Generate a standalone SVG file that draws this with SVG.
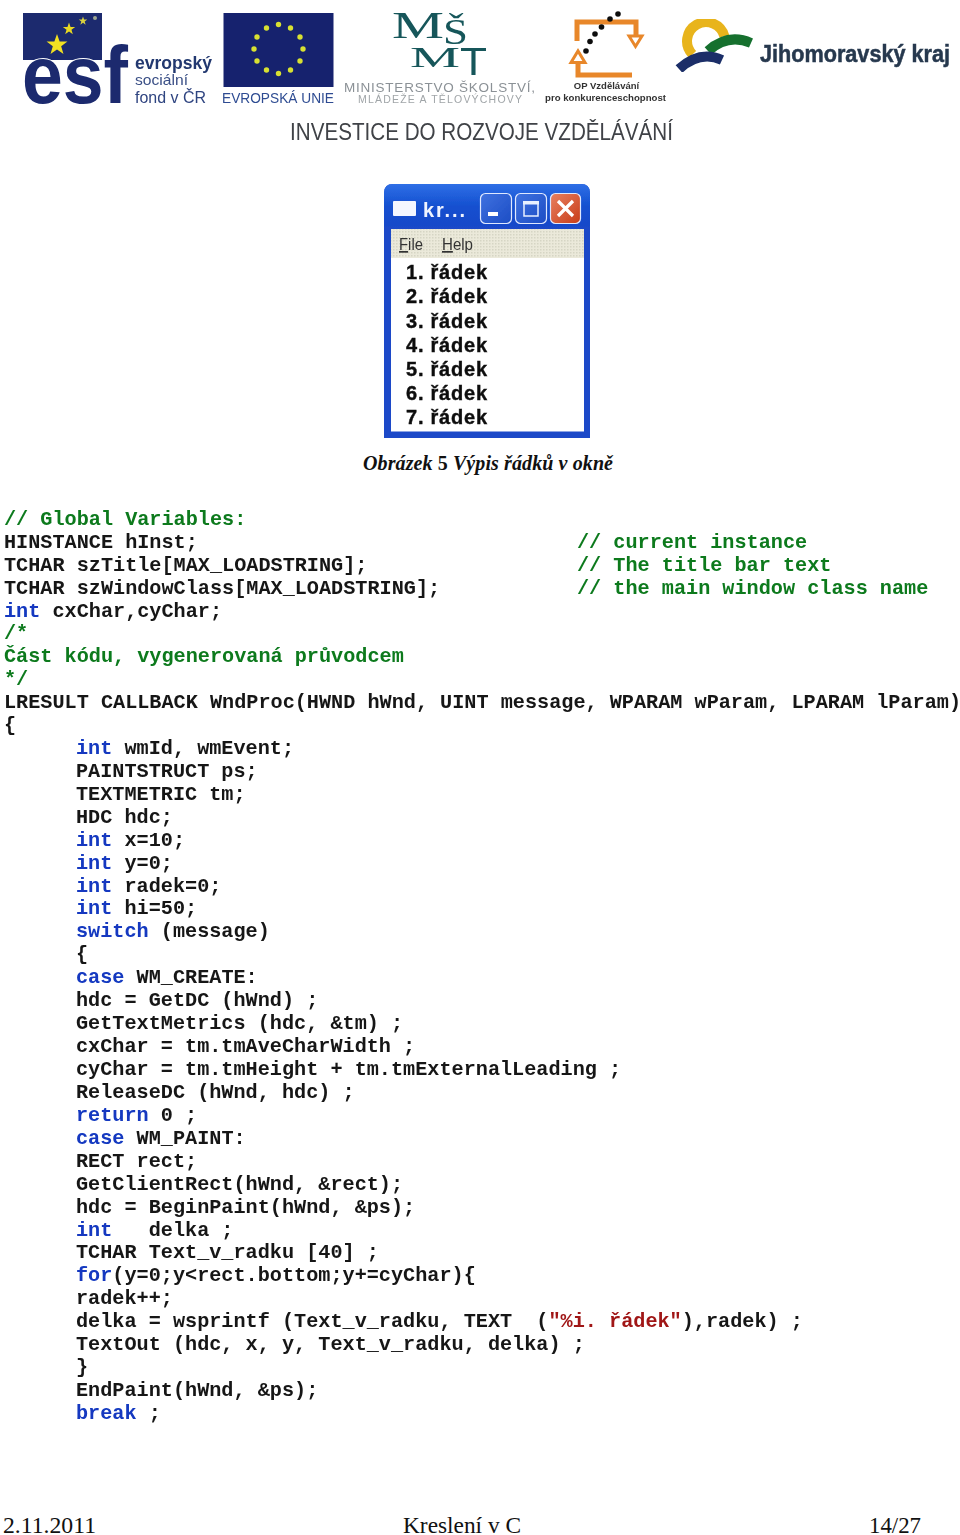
<svg xmlns="http://www.w3.org/2000/svg" width="960" height="1535" viewBox="0 0 960 1535">
<style>
text{white-space:pre}
.c{font:bold 20.2px "Liberation Mono",monospace;fill:#161616}
.g{fill:#0b7a1e}
.b{fill:#1238c0}
.r{fill:#a01818}
.s{font-family:"Liberation Sans",Arial,sans-serif}
.t{font-family:"Liberation Serif","Times New Roman",serif}
.row{font:bold 20px "Liberation Sans",Arial,sans-serif;fill:#111;stroke:#111;stroke-width:.4}
.navy{fill:#1a2a6e}
.btn{stroke:#dfe8ff;stroke-width:1.2}
</style>
<defs>
<filter id="soft" x="-5%" y="-5%" width="110%" height="110%"><feGaussianBlur stdDeviation="0.7"/></filter>
<filter id="mild" x="-2%" y="-2%" width="104%" height="104%"><feGaussianBlur stdDeviation="0.3"/></filter>
<linearGradient id="tb" x1="0" y1="0" x2="0" y2="1"><stop offset="0" stop-color="#2f6fe6"/><stop offset="0.5" stop-color="#1450d0"/><stop offset="1" stop-color="#1a48c8"/></linearGradient>
<linearGradient id="bt" x1="0" y1="0" x2="1" y2="1"><stop offset="0" stop-color="#3f72e0"/><stop offset="1" stop-color="#1c4cc4"/></linearGradient>
<linearGradient id="cl" x1="0" y1="0" x2="1" y2="1"><stop offset="0" stop-color="#e88060"/><stop offset="1" stop-color="#c83c18"/></linearGradient>
<polygon id="star" points="0,-1 0.24,-0.31 0.95,-0.31 0.38,0.12 0.59,0.81 0,0.4 -0.59,0.81 -0.38,0.12 -0.95,-0.31 -0.24,-0.31"/>
<pattern id="dith" width="3" height="3" patternUnits="userSpaceOnUse"><rect width="3" height="3" fill="#ebe9da"/><rect width="1.5" height="1.5" fill="#d6d5c4"/></pattern>
</defs>
<rect width="960" height="1535" fill="#fff"/>

<g id="logo-esf" filter="url(#soft)">
<rect x="23" y="13" width="79" height="47" fill="#1a2a6e"/>
<use href="#star" transform="translate(57,45) scale(11)" fill="#f2e020"/>
<use href="#star" transform="translate(69,29) scale(6.5)" fill="#e8d820"/>
<use href="#star" transform="translate(83,21) scale(4.5)" fill="#d8d040"/>
<circle cx="95" cy="18" r="2" fill="#a0a890"/>
<text x="22" y="103" font-size="82" font-weight="bold" class="s navy" textLength="106" lengthAdjust="spacingAndGlyphs" stroke="#fff" stroke-width="2" paint-order="stroke">esf</text>
<text x="135" y="69" font-size="19" font-weight="bold" class="s" fill="#22386f" textLength="77" lengthAdjust="spacingAndGlyphs">evropský</text>
<text x="135" y="85" font-size="14.500" class="s" fill="#3a4f86" textLength="53" lengthAdjust="spacingAndGlyphs">sociální</text>
<text x="135" y="103" font-size="17" class="s" fill="#2f4480" textLength="71" lengthAdjust="spacingAndGlyphs">fond v ČR</text>
</g>

<g id="logo-eu" filter="url(#soft)">
<rect x="223.500" y="13" width="110" height="74" fill="#13246e"/>
<g fill="#d8e030">
<circle cx="278.500" cy="24.500" r="2.700"/><circle cx="290.500" cy="28" r="2.700"/><circle cx="300" cy="37" r="2.700"/><circle cx="303" cy="49" r="2.700"/><circle cx="300" cy="61" r="2.700"/><circle cx="290.500" cy="70" r="2.700"/><circle cx="278.500" cy="73.500" r="2.700"/><circle cx="266.500" cy="70" r="2.700"/><circle cx="257" cy="61" r="2.700"/><circle cx="254" cy="49" r="2.700"/><circle cx="257" cy="37" r="2.700"/><circle cx="266.500" cy="28" r="2.700"/>
</g>
<text x="222" y="103" font-size="15" class="s" fill="#2e4c92" textLength="112" lengthAdjust="spacingAndGlyphs">EVROPSKÁ UNIE</text>
</g>

<g id="logo-msmt" filter="url(#soft)">
<text x="392" y="38" font-size="38" class="t" fill="#17565a" textLength="52" lengthAdjust="spacingAndGlyphs">M</text>
<text x="443" y="44" font-size="36" class="t" fill="#17565a" textLength="25" lengthAdjust="spacingAndGlyphs">Š</text>
<text x="410" y="67" font-size="30" class="t" fill="#17565a" textLength="50" lengthAdjust="spacingAndGlyphs">M</text>
<text x="460" y="75" font-size="38" class="s" fill="#17565a" textLength="27" lengthAdjust="spacingAndGlyphs">T</text>
<text x="344" y="92" font-size="13.500" class="s" fill="#8b9196" textLength="191">MINISTERSTVO ŠKOLSTVÍ,</text>
<text x="358" y="103" font-size="10.500" class="s" fill="#a0a5a8" textLength="164">MLÁDEŽE A TĚLOVÝCHOVY</text>
</g>

<g id="logo-op" filter="url(#soft)">
<path d="M577 41V22H636V36M578 62V75H632" fill="none" stroke="#e8872a" stroke-width="5"/>
<path d="M571 62.500L578 51L585 62.500Z" fill="#fff" stroke="#e8872a" stroke-width="3"/>
<path d="M629 36H642L635.500 46.500Z" fill="#fff" stroke="#e8872a" stroke-width="3"/>
<g fill="#111"><circle cx="618" cy="14" r="2.800"/><circle cx="610" cy="19" r="2.800"/><circle cx="601.500" cy="27" r="2.800"/><circle cx="595" cy="34" r="2.800"/><circle cx="590" cy="41.500" r="2.800"/><circle cx="586" cy="51" r="2.800"/></g>
<text x="606.500" y="89" font-size="9.500" font-weight="bold" class="s" fill="#333" text-anchor="middle">OP Vzdělávání</text>
<text x="545" y="101" font-size="9.500" font-weight="bold" class="s" fill="#333" textLength="121" lengthAdjust="spacingAndGlyphs">pro konkurenceschopnost</text>
</g>

<g id="logo-jmk" filter="url(#soft)">
<path d="M692.500 54.400A19 19 0 1 1 724.400 36.200" fill="none" stroke="#e8b41e" stroke-width="10"/>
<path d="M708 51Q728 33 751 43" fill="none" stroke="#15702f" stroke-width="10"/>
<path d="M679 69Q700 50 722 60" fill="none" stroke="#1a2f68" stroke-width="10"/>
<text x="760" y="62" font-size="23" font-weight="bold" class="s" fill="#26384e" stroke="#26384e" stroke-width=".5" textLength="190" lengthAdjust="spacingAndGlyphs">Jihomoravský kraj</text>
</g>

<g id="logo-title" filter="url(#soft)">
<text x="290" y="140" font-size="24" class="s" fill="#3f4246" textLength="383" lengthAdjust="spacingAndGlyphs">INVESTICE DO ROZVOJE VZDĚLÁVÁNÍ</text>
</g>

<g id="window" filter="url(#mild)">
<path d="M384 438V193Q384 184 393 184H581Q590 184 590 193V438Z" fill="#1a48c8"/>
<path d="M384 193Q384 184 393 184H581Q590 184 590 193V228H384Z" fill="url(#tb)"/>
<rect x="391" y="229" width="193" height="29" fill="url(#dith)"/>
<rect x="391" y="258" width="193" height="173.500" fill="#fff"/>
<rect x="393" y="201" width="23" height="15" rx="1" fill="#f4f6ff"/>
<text x="423" y="217" font-size="20" font-weight="bold" class="s" fill="#f0f4ff" textLength="42">kr...</text>
<rect class="btn" x="480.500" y="193.500" width="31" height="30" rx="5" fill="url(#bt)"/>
<rect class="btn" x="515.500" y="193.500" width="31" height="30" rx="5" fill="url(#bt)"/>
<rect class="btn" x="550.500" y="193.500" width="30" height="30" rx="5" fill="url(#cl)"/>
<rect x="488" y="212" width="10" height="4" fill="#fff"/>
<path d="M524 203H538V216H524Z" fill="none" stroke="#e8f0ff" stroke-width="1.500"/><rect x="523" y="201" width="16" height="3.500" fill="#e8f0ff"/>
<path d="M558 201L573 216M573 201L558 216" stroke="#fff" stroke-width="3.200"/>
<text x="399" y="250" font-size="17" class="s" fill="#333" textLength="24" lengthAdjust="spacingAndGlyphs"><tspan text-decoration="underline">F</tspan>ile</text>
<text x="442" y="250" font-size="17" class="s" fill="#333" textLength="31" lengthAdjust="spacingAndGlyphs"><tspan text-decoration="underline">H</tspan>elp</text>
<text class="row" x="406" y="279" textLength="81">1. řádek</text>
<text class="row" x="406" y="303.300" textLength="81">2. řádek</text>
<text class="row" x="406" y="327.500" textLength="81">3. řádek</text>
<text class="row" x="406" y="351.700" textLength="81">4. řádek</text>
<text class="row" x="406" y="376" textLength="81">5. řádek</text>
<text class="row" x="406" y="400" textLength="81">6. řádek</text>
<text class="row" x="406" y="424.200" textLength="81">7. řádek</text>
</g>

<text id="caption" x="363" y="470" font-size="20" font-weight="bold" font-style="italic" class="t" fill="#111" textLength="250">Obrázek <tspan font-style="normal">5</tspan> Výpis řádků v okně</text>

<g id="code" filter="url(#mild)">
<text class="c g" x="4" y="524.500">// Global Variables:</text>
<text class="c" x="4" y="547.500">HINSTANCE hInst;</text>
<text class="c g" x="577" y="547.500">// current instance</text>
<text class="c" x="4" y="570.500">TCHAR szTitle[MAX_LOADSTRING];</text>
<text class="c g" x="577" y="570.500">// The title bar text</text>
<text class="c" x="4" y="593.500">TCHAR szWindowClass[MAX_LOADSTRING];</text>
<text class="c g" x="577" y="593.500">// the main window class name</text>
<text class="c" x="4" y="616.500"><tspan class="b">int</tspan> cxChar,cyChar;</text>
<text class="c g" x="4" y="639">/*</text>
<text class="c g" x="4" y="662">Část kódu, vygenerovaná průvodcem</text>
<text class="c g" x="4" y="685">*/</text>
<text class="c" x="4" y="708">LRESULT CALLBACK WndProc(HWND hWnd, UINT message, WPARAM wParam, LPARAM lParam)</text>
<text class="c" x="4" y="730.500">{</text>
<text class="c" x="76" y="753.500"><tspan class="b">int</tspan> wmId, wmEvent;</text>
<text class="c" x="76" y="776.500">PAINTSTRUCT ps;</text>
<text class="c" x="76" y="799.500">TEXTMETRIC tm;</text>
<text class="c" x="76" y="822.500">HDC hdc;</text>
<text class="c" x="76" y="845.500"><tspan class="b">int</tspan> x=10;</text>
<text class="c" x="76" y="868.500"><tspan class="b">int</tspan> y=0;</text>
<text class="c" x="76" y="891.500"><tspan class="b">int</tspan> radek=0;</text>
<text class="c" x="76" y="914"><tspan class="b">int</tspan> hi=50;</text>
<text class="c" x="76" y="937"><tspan class="b">switch</tspan> (message)</text>
<text class="c" x="76" y="960">{</text>
<text class="c" x="76" y="983"><tspan class="b">case</tspan> WM_CREATE:</text>
<text class="c" x="76" y="1006">hdc = GetDC (hWnd) ;</text>
<text class="c" x="76" y="1029">GetTextMetrics (hdc, &amp;tm) ;</text>
<text class="c" x="76" y="1052">cxChar = tm.tmAveCharWidth ;</text>
<text class="c" x="76" y="1075">cyChar = tm.tmHeight + tm.tmExternalLeading ;</text>
<text class="c" x="76" y="1098">ReleaseDC (hWnd, hdc) ;</text>
<text class="c" x="76" y="1120.500"><tspan class="b">return</tspan> 0 ;</text>
<text class="c" x="76" y="1143.500"><tspan class="b">case</tspan> WM_PAINT:</text>
<text class="c" x="76" y="1166.500">RECT rect;</text>
<text class="c" x="76" y="1189.500">GetClientRect(hWnd, &amp;rect);</text>
<text class="c" x="76" y="1212.500">hdc = BeginPaint(hWnd, &amp;ps);</text>
<text class="c" x="76" y="1235.500"><tspan class="b">int</tspan>   delka ;</text>
<text class="c" x="76" y="1258">TCHAR Text_v_radku [40] ;</text>
<text class="c" x="76" y="1281"><tspan class="b">for</tspan>(y=0;y&lt;rect.bottom;y+=cyChar){</text>
<text class="c" x="76" y="1304">radek++;</text>
<text class="c" x="76" y="1327">delka = wsprintf (Text_v_radku, TEXT  (<tspan class="r">"%i. řádek"</tspan>),radek) ;</text>
<text class="c" x="76" y="1350">TextOut (hdc, x, y, Text_v_radku, delka) ;</text>
<text class="c" x="76" y="1373">}</text>
<text class="c" x="76" y="1396">EndPaint(hWnd, &amp;ps);</text>
<text class="c" x="76" y="1419"><tspan class="b">break</tspan> ;</text>
</g>

<g id="footer">
<text x="3" y="1533" font-size="24" class="t" fill="#111" textLength="93" lengthAdjust="spacingAndGlyphs">2.11.2011</text>
<text x="403" y="1533" font-size="24" class="t" fill="#111" textLength="118" lengthAdjust="spacingAndGlyphs">Kreslení v C</text>
<text x="869" y="1533" font-size="24" class="t" fill="#111" textLength="52" lengthAdjust="spacingAndGlyphs">14/27</text>
</g>
</svg>
